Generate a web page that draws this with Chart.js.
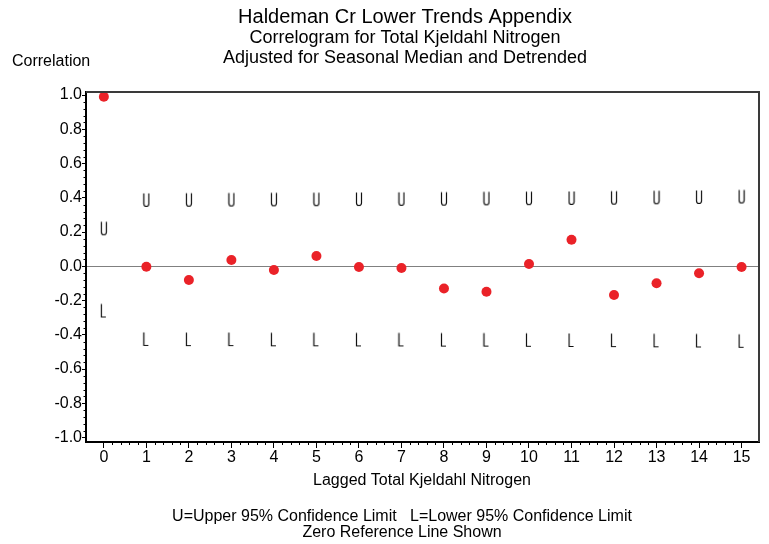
<!DOCTYPE html>
<html>
<head>
<meta charset="utf-8">
<script src="https://cdn.jsdelivr.net/npm/chart.js@4.4.1/dist/chart.umd.min.js"></script>
<style>
  html, body { margin: 0; padding: 0; background: #fff; }
</style>
</head>
<body>
<canvas id="chart" width="769" height="544"></canvas>
<script>
'use strict'

// values
const lags = [0, 1, 2, 3, 4, 5, 6, 7, 8, 9, 10, 11, 12, 13, 14, 15];
const correlation = [0.99, -0.003, -0.08, 0.037, -0.022, 0.06, -0.004, -0.01, -0.13, -0.149, 0.013, 0.155, -0.168, -0.099, -0.041, -0.004];
const upperLimit = [0.222, 0.388, 0.389, 0.39, 0.391, 0.392, 0.393, 0.394, 0.395, 0.397, 0.398, 0.399, 0.401, 0.403, 0.405, 0.408];
const lowerLimit = [-0.258, -0.424, -0.425, -0.425, -0.426, -0.426, -0.427, -0.427, -0.428, -0.428, -0.429, -0.43, -0.431, -0.432, -0.433, -0.435];
const yTicks = [-1.0, -0.8, -0.6, -0.4, -0.2, 0.0, 0.2, 0.4, 0.6, 0.8, 1.0];
const xTicks = lags;

const FONT = '"Liberation Sans", Arial, sans-serif';

// little U / L marks used as point symbols
function glyph(letter) {
  const c = document.createElement('canvas');
  c.width = 8;
  c.height = 16;
  const g = c.getContext('2d');
  g.strokeStyle = '#111';
  g.lineWidth = 1.2;
  g.beginPath();
  if (letter === 'U') {
    g.moveTo(1.5, 1.5);
    g.lineTo(1.5, 12);
    g.arc(4, 12, 2.5, Math.PI, 0, true);
    g.lineTo(6.5, 1.5);
  } else {
    g.moveTo(1.5, 1.5);
    g.lineTo(1.5, 14.5);
    g.lineTo(6, 14.5);
  }
  g.stroke();
  return c;
}

function pts(vals) {
  return lags.map((l, i) => ({ x: l, y: vals[i] }));
}

// frame, minor ticks and the free text around the plot
const extras = {
  id: 'extras',
  afterDraw(chart) {
    const ctx = chart.ctx;
    const a = chart.chartArea;
    const x = chart.scales.x;
    const y = chart.scales.y;
    ctx.save();

    ctx.strokeStyle = '#3a3a3a';
    ctx.lineWidth = 2;
    ctx.beginPath();
    ctx.moveTo(a.left, a.top);
    ctx.lineTo(a.right, a.top);
    ctx.lineTo(a.right, a.bottom);
    ctx.stroke();

    ctx.strokeStyle = '#000';
    ctx.lineWidth = 1;
    ctx.beginPath();
    for (let i = 0; i < 15; i++) {
      for (let k = 1; k < 5; k++) {
        const px = Math.round(x.getPixelForValue(i + k / 5)) + 0.5;
        ctx.moveTo(px, a.bottom);
        ctx.lineTo(px, a.bottom + 3);
      }
    }
    for (let i = 0; i < 10; i++) {
      for (let k = 1; k < 5; k++) {
        const py = Math.round(y.getPixelForValue(-1 + i * 0.2 + k * 0.04)) + 0.5;
        ctx.moveTo(a.left, py);
        ctx.lineTo(a.left - 2.5, py);
      }
    }
    ctx.stroke();

    ctx.fillStyle = '#000';
    ctx.textAlign = 'center';
    ctx.textBaseline = 'middle';
    ctx.font = '20px ' + FONT;
    ctx.fillText('Haldeman Cr Lower Trends Appendix', 405, 17);
    ctx.font = '18px ' + FONT;
    ctx.fillText('Correlogram for Total Kjeldahl Nitrogen', 405, 38);
    ctx.fillText('Adjusted for Seasonal Median and Detrended', 405, 58);
    ctx.font = '16px ' + FONT;
    ctx.fillText('Lagged Total Kjeldahl Nitrogen', 422, 481);
    ctx.fillText('U=Upper 95% Confidence Limit   L=Lower 95% Confidence Limit', 402, 517);
    ctx.fillText('Zero Reference Line Shown', 402, 533);
    ctx.textAlign = 'left';
    ctx.fillText('Correlation', 12, 62);
    ctx.restore();
  }
};

const chart = new Chart(document.getElementById('chart').getContext('2d'), {
  type: 'scatter',
  data: {
    datasets: [
      {
        label: 'Upper',
        data: pts(upperLimit),
        pointStyle: glyph('U'),
        pointRadius: 7
      },
      {
        label: 'Lower',
        data: pts(lowerLimit),
        pointStyle: glyph('L'),
        pointRadius: 7
      },
      {
        label: 'Correlation',
        data: pts(correlation),
        pointStyle: 'circle',
        pointRadius: 5,
        backgroundColor: '#ea2228',
        borderColor: '#ea2228',
        borderWidth: 0
      }
    ]
  },
  options: {
    responsive: false,
    animation: false,
    layout: { padding: { left: 0, right: 10, top: 92, bottom: 72 } },
    plugins: {
      legend: { display: false },
      tooltip: { enabled: false },
      title: { display: false }
    },
    scales: {
      x: {
        type: 'linear',
        min: -0.42,
        max: 15.41,
        afterBuildTicks: s => { s.ticks = xTicks.map(v => ({ value: v })); },
        afterFit: s => { s.height = 30; },
        grid: { drawOnChartArea: false, tickLength: 6, color: '#000' },
        border: { color: '#000', width: 2 },
        ticks: {
          color: '#000',
          padding: 0,
          maxRotation: 0,
          font: { family: FONT, size: 16 },
          callback: v => String(v)
        }
      },
      y: {
        min: -1.026,
        max: 1.018,
        afterBuildTicks: s => { s.ticks = yTicks.map(v => ({ value: v })); },
        afterFit: s => { s.width = 86; },
        grid: {
          tickLength: 4,
          color: c => (c.tick && c.tick.value === 0 ? '#808080' : 'rgba(0,0,0,0)'),
          tickColor: '#000',
          lineWidth: 1
        },
        border: { color: '#000', width: 2 },
        ticks: {
          color: '#000',
          padding: 0,
          font: { family: FONT, size: 16 },
          callback: v => Number(v).toFixed(1)
        }
      }
    }
  },
  plugins: [extras]
});
</script>
</body>
</html>
